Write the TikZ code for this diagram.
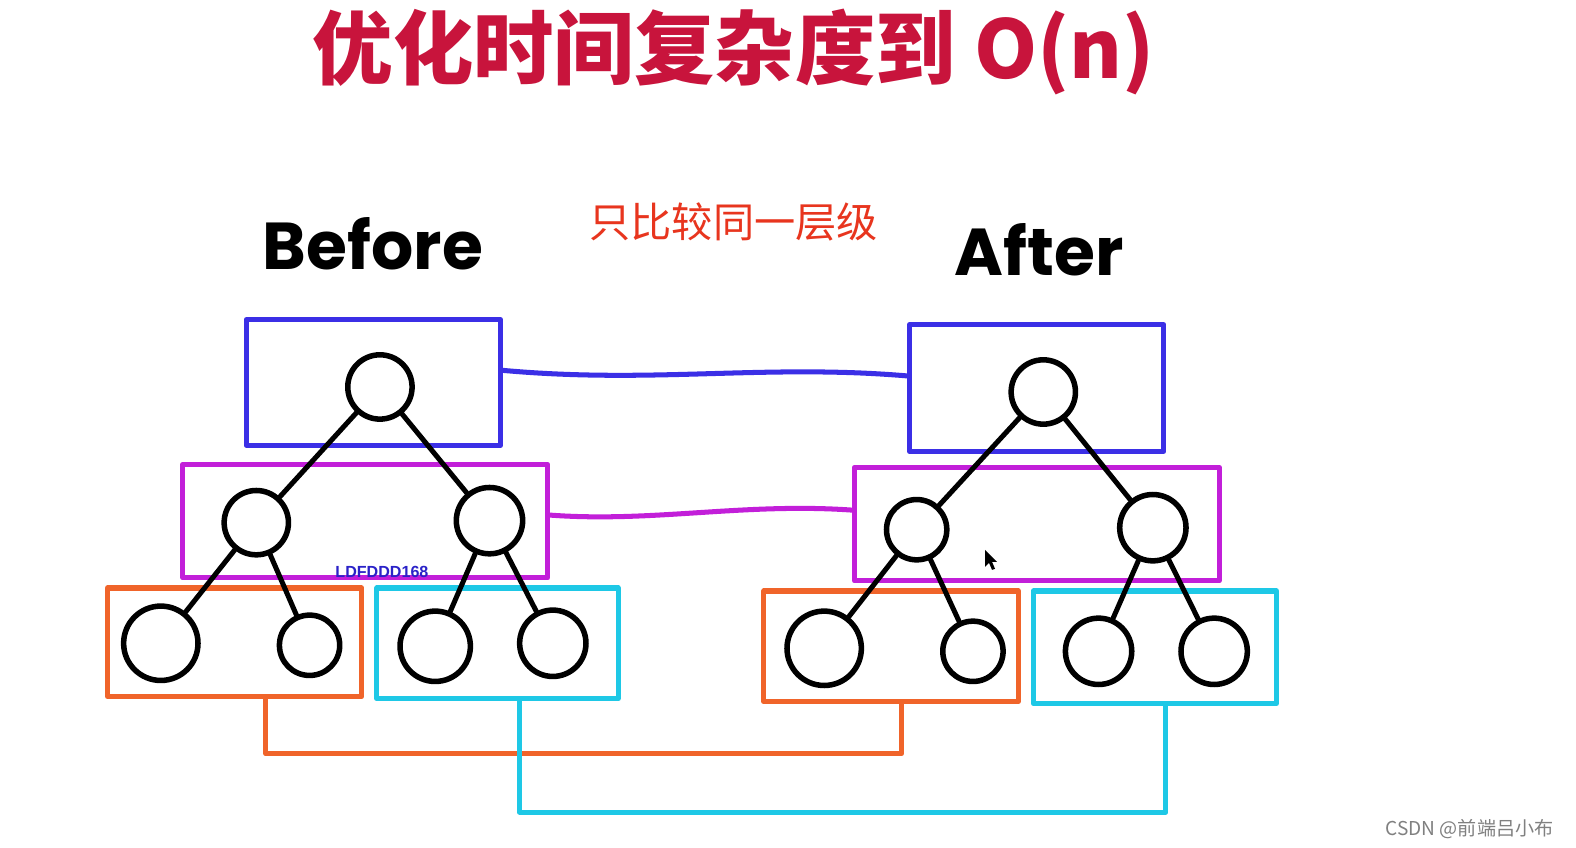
\documentclass[tikz,border=0pt]{standalone}
\usepackage{fontspec}
\newfontfamily\cjk{Noto Sans CJK SC}
\newfontfamily\hand{Poppins}
\newfontfamily\arialf{Liberation Sans}
\definecolor{ttl}{HTML}{C8143C}
\definecolor{sub}{HTML}{E8351E}
\definecolor{cblue}{HTML}{3B2FE6}
\definecolor{cpurp}{HTML}{C21FD9}
\definecolor{corng}{HTML}{F0642A}
\definecolor{ccyan}{HTML}{1EC8E6}
\definecolor{wm}{HTML}{2A22C8}
\tikzset{
  lvl/.style={draw, line width=5pt, rectangle, inner sep=0pt, line join=round},
  circ/.style={draw=black, line width=5.5pt, circle, inner sep=0pt},
  edge/.style={draw=black, line width=5pt, line cap=round},
  conn/.style={line width=5pt, line cap=round, line join=round},
  handtxt/.style={font=\hand\bfseries\fontsize{66}{66}\selectfont},
}
\begin{document}
\begin{tikzpicture}[x=1pt,y=-1pt]
\useasboundingbox (0,0) rectangle (1568,843);
\fill[white] (0,0) rectangle (1568,843);
% title
\node[font=\cjk\bfseries\fontsize{80}{80}\selectfont, text=ttl] (title) at (730,52) {优化时间复杂度到 O(n)};
\node[font=\cjk\fontsize{41}{41}\selectfont, text=sub] (sub) at (730,221) {只比较同一层级};
\node[handtxt] (before) at (371,243) {Before};
\node[handtxt] (after) at (1034,248) {After};
% level boxes
\node[lvl, draw=cblue, minimum width=253, minimum height=125] (bl) at (371.5,380.5) {};
\node[lvl, draw=cblue, minimum width=253, minimum height=126] (br) at (1031.5,386) {};
\node[lvl, draw=cpurp, minimum width=363, minimum height=113] (pl) at (363.5,518.5) {};
\node[lvl, draw=cpurp, minimum width=363, minimum height=113] (pr) at (1031.5,521.5) {};
\node[lvl, draw=corng, minimum width=253, minimum height=108] (ol) at (233.5,639) {};
\node[lvl, draw=ccyan, minimum width=240, minimum height=110] (cl) at (495,640) {};
\node[lvl, draw=corng, minimum width=253, minimum height=110] (or) at (886.5,643) {};
\node[lvl, draw=ccyan, minimum width=242, minimum height=112] (cr) at (1149,644) {};
% connectors
\draw[conn, cblue] ([yshift=12pt]bl.east) .. controls (650,382) and (760,362) .. ([yshift=12pt]br.west);
\draw[conn, cpurp] ([yshift=6pt]pl.east) .. controls (650,520) and (740,500) .. ([yshift=14pt]pr.west);
\coordinate (oc) at (580,750);
\draw[conn, corng] ([xshift=31pt]ol.south) |- (oc) -| ([xshift=10.5pt]or.south);
\coordinate (cc) at (840,808);
\draw[conn, ccyan] ([xshift=22pt]cl.south) |- (cc) -| ([xshift=11pt]cr.south);
% left tree
\node[circ, minimum size=64] (l1) at (378,385) {};
\node[circ, minimum size=64] (l2a) at (255,520) {};
\node[circ, minimum size=66] (l2b) at (487,518) {};
\node[circ, minimum size=74] (l3a) at (160,640) {};
\node[circ, minimum size=60] (l3b) at (308,642) {};
\node[circ, minimum size=70] (l3c) at (433,643) {};
\node[circ, minimum size=66] (l3d) at (550,640) {};
\draw[edge] (l1) -- (l2a);
\draw[edge] (l1) -- (l2b);
\draw[edge] (l2a) -- (l3a);
\draw[edge] (l2a) -- (l3b);
\draw[edge] (l2b) -- (l3c);
\draw[edge] (l2b) -- (l3d);
% right tree
\node[circ, minimum size=64] (r1) at (1038,390) {};
\node[circ, minimum size=60] (r2a) at (912,527) {};
\node[circ, minimum size=66] (r2b) at (1147,525) {};
\node[circ, minimum size=74] (r3a) at (820,645) {};
\node[circ, minimum size=60] (r3b) at (968,648) {};
\node[circ, minimum size=66] (r3c) at (1093,648) {};
\node[circ, minimum size=66] (r3d) at (1208,648) {};
\draw[edge] (r1) -- (r2a);
\draw[edge] (r1) -- (r2b);
\draw[edge] (r2a) -- (r3a);
\draw[edge] (r2a) -- (r3b);
\draw[edge] (r2b) -- (r3c);
\draw[edge] (r2b) -- (r3d);
% cursor
\fill[black] (980,547) -- (980,564) -- (984,560) -- (987,567) -- (990,566) -- (987,559) -- (992,559) -- cycle;
% watermarks
\node[font=\arialf\bfseries\fontsize{16}{16}\selectfont, text=wm] (wm) at (380,569) {LDFDDD168};
\node[font=\cjk\fontsize{19}{19}\selectfont, text=black!50] (csdn) at (1462,825) {CSDN @前端吕小布};
\end{tikzpicture}
\end{document}
